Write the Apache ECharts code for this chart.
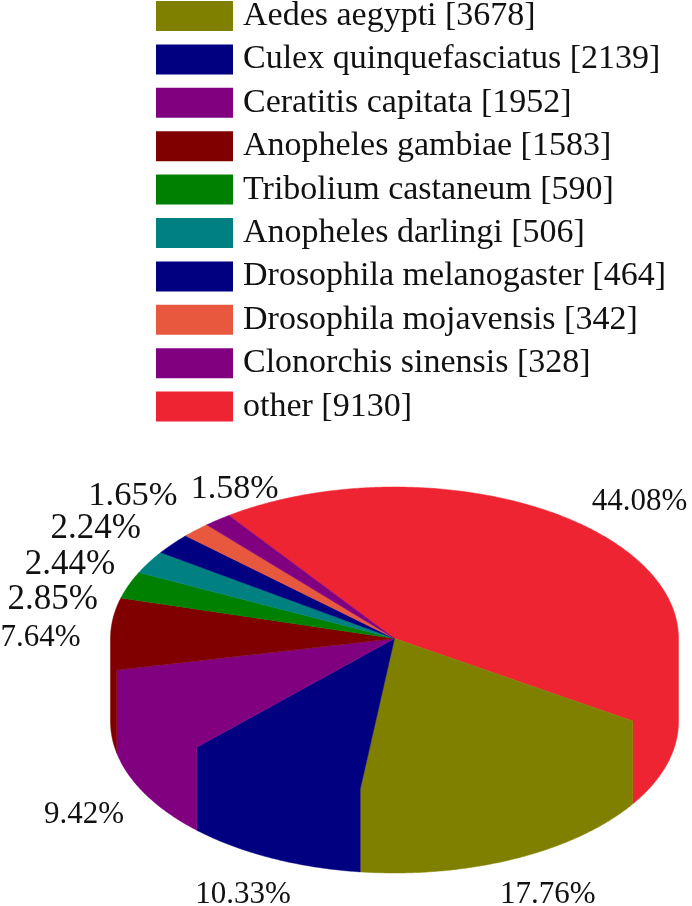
<!DOCTYPE html>
<html><head><meta charset="utf-8">
<style>html,body{margin:0;padding:0;background:#fff}#c{width:692px;height:906px}</style>
<script src="https://cdn.jsdelivr.net/npm/echarts@6/dist/echarts.min.js"></script>
</head><body><div id="c"></div>
<script>
const species = ['Aedes aegypti','Culex quinquefasciatus','Ceratitis capitata','Anopheles gambiae','Tribolium castaneum','Anopheles darlingi','Drosophila melanogaster','Drosophila mojavensis','Clonorchis sinensis','other'];
const counts = [3678,2139,1952,1583,590,506,464,342,328,9130];
const percentLabels = ['17.76%','10.33%','9.42%','7.64%','2.85%','2.44%','2.24%','1.65%','1.58%','44.08%'];
const colors = ['#808000','#000080','#800080','#800000','#008000','#008080','#000080','#E8583F','#800080','#EF2433'];
// label layout only: offsets from the arc midpoint of each slice, and font sizes
const labelDx = [33,-29,-62,-70,-76,-79,-77,-63,17,49];
const labelDy = [119,120,103,4,15,3,-15,-34,-31,-27];
const labelSizes = [31,31,31,31,35,35,35,34.5,34,31];

const cx = 394.5, cy = 638.5, rx = 284, ry = 151.5, depth = 83, startDeg = 33;
const FONT = '"Liberation Serif","Times New Roman",serif';
const total = counts.reduce((a,b)=>a+b,0);
const rad = d => d*Math.PI/180;
const pt = (d,dy=0) => [cx+rx*Math.cos(rad(d)), cy+ry*Math.sin(rad(d))+dy];
function arc(a,b,dy=0){const n=Math.max(2,Math.ceil((b-a)*2));const r=[];for(let i=0;i<=n;i++)r.push(pt(a+(b-a)*i/n,dy));return r;}

const ranges=[];let acc=startDeg;
counts.forEach(v=>{const s=acc;acc+=v/total*360;ranges.push([s,acc]);});

function outline(a,b){
  const cuts=[a];
  [180,360,540].forEach(c=>{if(c>a&&c<b)cuts.push(c);});
  cuts.push(b);
  let pts=[[cx,cy]];
  for(let i=0;i<cuts.length-1;i++){
    const s=cuts[i],e=cuts[i+1],mid=((s+e)/2)%360;
    if(mid<180){pts.push(pt(s));pts=pts.concat(arc(s,e,depth));pts.push(pt(e));}
    else pts=pts.concat(arc(s,e));
  }
  return pts;
}

function makeRender(idx){
  return function(params,api){
    const [a,b]=ranges[idx];
    const color=api.visual('color');
    const children=[{type:'polygon',shape:{points:outline(a,b)},style:{fill:color,stroke:color,lineWidth:0.5}}];
    const m=pt((a+b)/2);
    children.push({type:'text',x:m[0]+labelDx[idx],y:m[1]+labelDy[idx],
      style:{text:percentLabels[idx],font:labelSizes[idx]+'px '+FONT,fill:'#111',align:'center',verticalAlign:'middle'}});
    return {type:'group',children};
  };
}

const names=species.map((s,i)=>s+' ['+counts[i]+']');
const chart=echarts.init(document.getElementById('c'),null,{renderer:'canvas'});
chart.setOption({
  animation:false,
  backgroundColor:'#fff',
  legend:{orient:'vertical',left:156,top:-1,padding:0,itemWidth:77,itemHeight:30,itemGap:9.4,
    icon:'rect',data:names,selectedMode:false,
    textStyle:{fontFamily:FONT,fontSize:34,color:'#111',padding:[0,0,0,5]}},
  series:names.map((n,i)=>({type:'custom',name:n,coordinateSystem:'none',silent:true,
    itemStyle:{color:colors[i]},data:[counts[i]],renderItem:makeRender(i),z:i===9?1:2}))
});
</script></body></html>
